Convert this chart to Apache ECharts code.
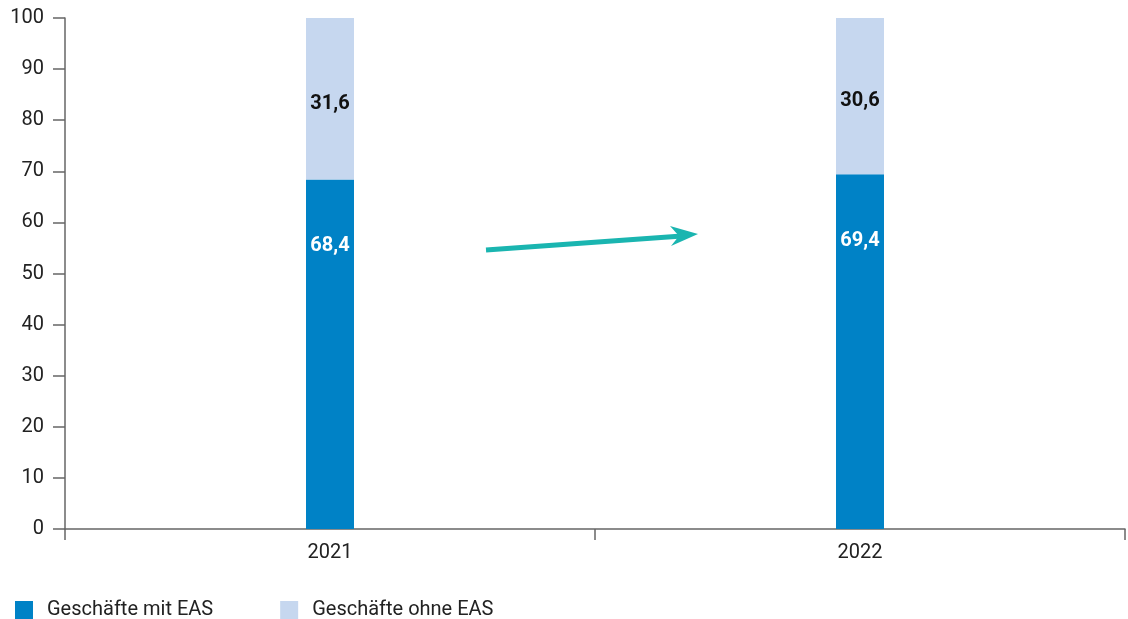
<!DOCTYPE html>
<html>
<head>
<meta charset="utf-8">
<script src="https://cdn.jsdelivr.net/npm/echarts@6/dist/echarts.min.js"></script>
<style>html,body{margin:0;padding:0;background:#fff}#c{width:1128px;height:619px}</style>
</head>
<body>
<div id="c"></div>
<script>
const categories = ['2021', '2022'];
const mitEAS = [68.4, 69.4];
const ohneEAS = [31.6, 30.6];
const seriesNames = ['Geschäfte mit EAS', 'Geschäfte ohne EAS'];

const FONT = 'Roboto, "Noto Sans", sans-serif';
const fmt = v => String(v.value).replace('.', ',');

const chart = echarts.init(document.getElementById('c'), null, {renderer: 'canvas'});
chart.setOption({
  animation: false,
  textStyle: {fontFamily: FONT},
  grid: {left: 65, right: 3, top: 18, bottom: 90, containLabel: false},
  legend: {
    left: 15, top: 600, padding: 0, itemWidth: 18, itemHeight: 18, itemGap: 67, icon: 'rect',
    textStyle: {fontSize: 20, color: '#222', fontFamily: FONT, padding: [0, 0, 0, 9]},
    data: seriesNames
  },
  xAxis: {
    type: 'category', data: categories, boundaryGap: true,
    axisLine: {lineStyle: {color: '#666', width: 1.5}},
    axisTick: {show: true, length: 11, lineStyle: {color: '#666', width: 1.5}},
    axisLabel: {fontSize: 20, color: '#222', margin: 14, fontFamily: FONT}
  },
  yAxis: {
    type: 'value', min: 0, max: 100, interval: 10,
    axisLine: {show: true, lineStyle: {color: '#666', width: 1.5}},
    axisTick: {show: true, length: 12, lineStyle: {color: '#666', width: 1.5}},
    splitLine: {show: false},
    axisLabel: {fontSize: 20, color: '#222', margin: 21, fontFamily: FONT}
  },
  series: [
    {
      name: seriesNames[0], type: 'bar', stack: 's', data: mitEAS, barWidth: 48,
      itemStyle: {color: '#0082C6'},
      label: {show: true, position: 'insideTop', distance: 57, color: '#fff', fontSize: 20, fontWeight: 'bold', fontFamily: FONT, formatter: fmt}
    },
    {
      name: seriesNames[1], type: 'bar', stack: 's', data: ohneEAS, barWidth: 48,
      itemStyle: {color: '#C6D7EF'},
      label: {show: true, position: 'inside', offset: [0, 5], color: '#111', fontSize: 20, fontWeight: 'bold', fontFamily: FONT, formatter: fmt}
    }
  ],
  graphic: [
    {type: 'line', shape: {x1: 486, y1: 250, x2: 682, y2: 236}, style: {stroke: '#1AB5B0', lineWidth: 5}},
    {type: 'polygon', shape: {points: [[670, 226], [698, 234], [671, 246], [679, 236]]}, style: {fill: '#1AB5B0'}}
  ]
});
</script>
</body>
</html>
